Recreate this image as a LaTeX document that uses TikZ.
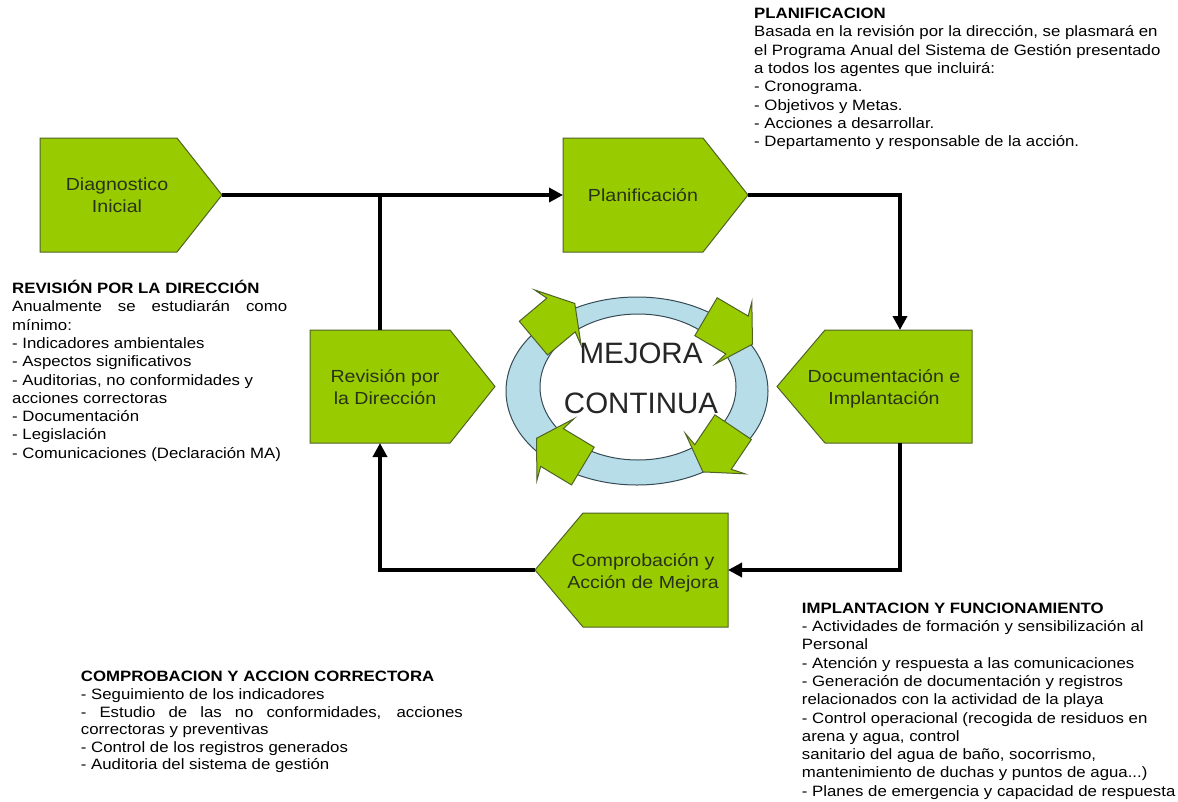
\documentclass[tikz,border=0pt]{standalone}
\usepackage{fontspec}
\setmainfont{Liberation Sans}[FakeStretch=1.12]
\newfontfamily\plainsans{Liberation Sans}
\usetikzlibrary{arrows.meta}
\definecolor{boxgreen}{RGB}{153,204,0}
\definecolor{boxedge}{RGB}{79,98,40}
\definecolor{ringblue}{RGB}{183,221,232}
\definecolor{ringedge}{RGB}{55,75,85}
\definecolor{labeltext}{RGB}{40,50,25}
\newcommand\blockfont{\fontsize{15}{18.3}\selectfont}
\newcommand\compfont{\fontsize{15}{17.6}\selectfont}
\newcommand\fl{\rule{0pt}{16pt}}
\newcommand\ringarr[3]{\draw[ringarrow,shift={(#1,#2)},rotate=#3] (-36,-22) -- (0,-22) -- (-4,-36) -- (18,0) -- (-4,36) -- (0,22) -- (-36,22) -- cycle;}
\begin{document}
\begin{tikzpicture}[x=1pt,y=-1pt,
  box/.style={fill=boxgreen,draw=boxedge,line width=1pt,line join=miter},
  conn/.style={line width=4pt,draw=black},
  tipstyle/.style={-{Triangle[length=14pt,width=14pt]}},
  lbl/.style={font=\fontsize{17.5}{22}\selectfont,text=labeltext,align=center,inner sep=0pt},
  block/.style={align=left,anchor=north west,inner sep=0pt,text=black},
  ringarrow/.style={fill=boxgreen,draw=boxedge,line width=1pt,line join=miter}]

\fill[white] (0,0) rectangle (1178,801);
\useasboundingbox (0,0) rectangle (1178,801);

% Diagnostico
\draw[box] (40,138) -- (177,138) -- (222,195) -- (177,252) -- (40,252) -- cycle;
\coordinate (diagE) at (222,195);
\node[lbl] (diag) at (117,197.5) {\strut Diagnostico\\ \strut Inicial};

% Planificacion
\draw[box] (563,138) -- (703,138) -- (748,195) -- (703,252) -- (563,252) -- cycle;
\coordinate (planW) at (563,195);
\coordinate (planE) at (748,195);
\node[lbl] (plan) at (643,197) {\strut Planificación};

% Revision
\draw[box] (310,330) -- (450,330) -- (495,386.5) -- (450,443) -- (310,443) -- cycle;
\coordinate (revN) at (380,330);
\coordinate (revS) at (380,443);
\node[lbl] (rev) at (385,389) {\strut Revisión por\\ \strut la Dirección};

% Documentacion
\draw[box] (972,330) -- (825,330) -- (777,386.5) -- (825,443) -- (972,443) -- cycle;
\coordinate (docN) at (900,330);
\coordinate (docS) at (900,443);
\node[lbl] (doc) at (884,389) {\strut Documentación e\\ \strut Implantación};

% Comprobacion
\draw[box] (728,513) -- (583,513) -- (535,570) -- (583,627) -- (728,627) -- cycle;
\coordinate (compE) at (728,570);
\coordinate (compW) at (535,570);
\node[lbl] (comp) at (643,573) {\strut Comprobación y\\ \strut Acción de Mejora};

% connectors
\draw[conn,tipstyle] (diagE) -- (planW);
\draw[conn] (revN) -- (revN |- diagE);
\draw[conn,tipstyle] (planE) -| (docN);
\draw[conn,tipstyle] (docS) |- (compE);
\draw[conn,tipstyle] (compW) -| (revS);

% ring
\fill[ringblue,even odd rule] (637,391) ellipse [x radius=131,y radius=94] (638,387) ellipse [x radius=98,y radius=73];
\draw[ringedge,line width=1pt] (637,391) ellipse [x radius=131,y radius=94];
\draw[ringedge,line width=1pt] (638,387) ellipse [x radius=98,y radius=73];

\ringarr{561}{315}{40}
\ringarr{737}{335}{-30.5}
\ringarr{713}{457}{236}
\ringarr{552}{447.5}{149}

\node[font=\plainsans\fontsize{29.5}{50}\selectfont,align=center,inner sep=0pt,text=black!85] (mejora) at (641,378) {\strut MEJORA\\ \strut CONTINUA};

% text blocks
\node[block,font=\blockfont] (plantext) at (754,2.3) {\fl\textbf{PLANIFICACION}\\
Basada en la revisión por la dirección, se plasmará en\\
el Programa Anual del Sistema de Gestión presentado\\
a todos los agentes que incluirá:\\
- Cronograma.\\
- Objetivos y Metas.\\
- Acciones a desarrollar.\\
- Departamento y responsable de la acción.};

\node[block,font=\blockfont] (revtext) at (12,277.3) {\fl\textbf{REVISIÓN POR LA DIRECCIÓN}\\
\makebox[275pt][s]{Anualmente se estudiarán como}\\
mínimo:\\
- Indicadores ambientales\\
- Aspectos significativos\\
- Auditorias, no conformidades y\\
acciones correctoras\\
- Documentación\\
- Legislación\\
- Comunicaciones (Declaración MA)};

\node[block,font=\blockfont] (impltext) at (801.7,597) {\fl\textbf{IMPLANTACION Y FUNCIONAMIENTO}\\
- Actividades de formación y sensibilización al\\
Personal\\
- Atención y respuesta a las comunicaciones\\
- Generación de documentación y registros\\
relacionados con la actividad de la playa\\
- Control operacional (recogida de residuos en\\
arena y agua, control\\
sanitario del agua de baño, socorrismo,\\
mantenimiento de duchas y puntos de agua...)\\
- Planes de emergencia y capacidad de respuesta};

\node[block,font=\compfont] (comptext) at (80.7,665.7) {\fl\textbf{COMPROBACION Y ACCION CORRECTORA}\\
- Seguimiento de los indicadores\\
\makebox[382pt][s]{- Estudio de las no conformidades, acciones}\\
correctoras y preventivas\\
- Control de los registros generados\\
- Auditoria del sistema de gestión};

\end{tikzpicture}
\end{document}
